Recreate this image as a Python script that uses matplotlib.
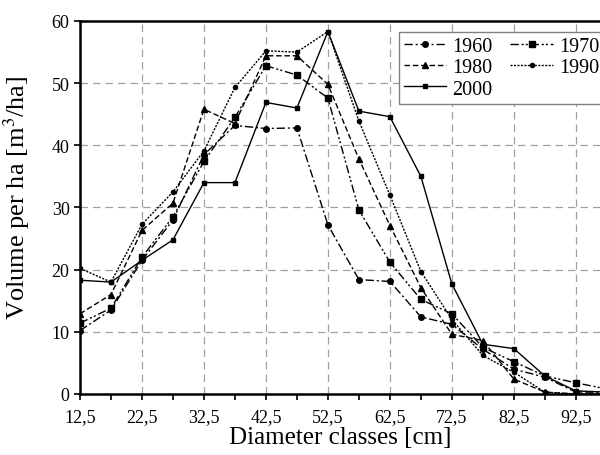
import matplotlib
matplotlib.use("Agg")
import matplotlib.pyplot as plt

# diameter classes [cm]
diameters = [12.5, 17.5, 22.5, 27.5, 32.5, 37.5, 42.5, 47.5, 52.5,
             57.5, 62.5, 67.5, 72.5, 77.5, 82.5, 87.5, 92.5, 97.5]

# volume per ha [m3/ha]
vol_1960 = [10.2, 13.5, 21.5, 28.0, 38.5, 43.2, 42.7, 42.8, 27.2,
            18.4, 18.1, 12.4, 11.2, 7.2, 4.0, 2.7, 0.3, 0.3]
vol_1970 = [11.4, 13.8, 22.0, 28.5, 37.4, 44.5, 52.8, 51.3, 47.6,
            29.6, 21.2, 15.2, 12.9, 7.5, 5.2, 2.9, 1.8, 0.8]
vol_1980 = [12.9, 16.0, 26.3, 30.7, 45.8, 43.5, 54.4, 54.4, 49.8,
            37.8, 27.1, 17.1, 9.6, 8.6, 2.4, 0.3, 0.0, 0.0]
vol_1990 = [20.2, 18.0, 27.3, 32.5, 39.1, 49.3, 55.2, 55.0, 58.3,
            43.9, 32.0, 19.7, 12.0, 6.2, 3.5, 0.3, 0.0, 0.0]
vol_2000 = [18.3, 18.0, 21.5, 24.8, 34.0, 34.0, 46.9, 46.0, 58.3,
            45.5, 44.6, 35.0, 17.7, 8.0, 7.3, 2.9, 0.5, 0.3]

major_ticks = [12.5, 22.5, 32.5, 42.5, 52.5, 62.5, 72.5, 82.5, 92.5]
minor_ticks = [17.5, 27.5, 37.5, 47.5, 57.5, 67.5, 77.5, 87.5]
y_ticks = [0, 10, 20, 30, 40, 50, 60]

plt.rcParams["font.family"] = ["Liberation Serif", "DejaVu Serif"]
plt.rcParams["mathtext.fontset"] = "stix"

fig = plt.figure(figsize=(6.0, 4.56), dpi=100)
ax = fig.add_axes([0.1333, 0.1338, 0.8667, 0.818])

series = [
    ("1960", vol_1960, (0, (6, 2, 1.5, 2)), "o", 4.0),
    ("1970", vol_1970, (0, (6, 2, 1.5, 1.5, 1.5, 2)), "s", 4.5),
    ("1980", vol_1980, (0, (4, 2)), "^", 4.5),
    ("1990", vol_1990, (0, (1.5, 1)), "o", 3.0),
    ("2000", vol_2000, "-", "s", 2.8),
]
handles = {}
for name, vals, ls, mk, ms in series:
    h, = ax.plot(diameters, vals, color="black", linestyle=ls, linewidth=1.0,
                 marker=mk, markersize=ms, label=name)
    handles[name] = h

ax.set_xlim(12.5, 96.4)
ax.set_ylim(0, 60)
ax.set_xticks(major_ticks)
ax.set_xticklabels([str(t).replace(".", ",") for t in major_ticks])
ax.set_xticks(minor_ticks, minor=True)
ax.set_yticks(y_ticks)
ax.tick_params(axis="both", which="both", direction="out", length=4, width=1.2,
               labelsize=13, colors="black")
ax.tick_params(axis="x", pad=6)

ax.grid(True, which="major", color="#a0a0a0", linestyle=(0, (6, 4)), linewidth=0.9)
ax.set_axisbelow(True)
for side in ["left", "bottom", "top"]:
    ax.spines[side].set_linewidth(1.8)
ax.spines["right"].set_visible(False)

ax.set_xlabel("Diameter classes [cm]", fontsize=18, labelpad=1)
ax.set_ylabel("Volume per ha [m$^3$/ha]", fontsize=19)
ax.yaxis.set_label_coords(-0.092, 0.53)

order = ["1960", "1980", "2000", "1970", "1990"]
leg = ax.legend([handles[k] for k in order], order, ncol=2, loc="upper left",
                bbox_to_anchor=(0.613, 0.97), fontsize=14.5, frameon=True,
                fancybox=False, edgecolor="#808080", framealpha=1,
                handlelength=2.1, handletextpad=0.3, columnspacing=0.9,
                labelspacing=0.1, borderpad=0.25, borderaxespad=0)
leg.get_frame().set_linewidth(1.0)

fig.savefig("out.png", dpi=100)
plt.close(fig)
